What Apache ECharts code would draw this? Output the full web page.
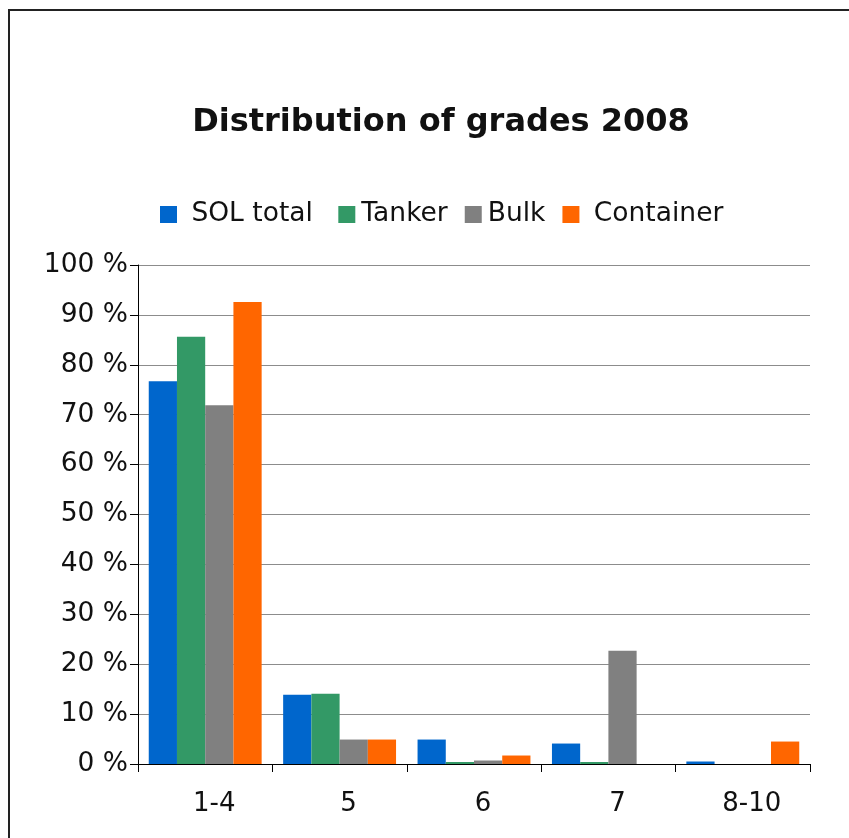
<!DOCTYPE html>
<html>
<head>
<meta charset="utf-8">
<script src="https://cdn.jsdelivr.net/npm/echarts@6/dist/echarts.min.js"></script>
<style>
  html, body { margin: 0; padding: 0; background: #fff; overflow: hidden; }
  #chart { width: 849px; height: 838px; }
</style>
</head>
<body>
<div id="chart"></div>
<script>
// grades on the x axis
const grades = ['1-4', '5', '6', '7', '8-10']
// share of ships per grade, in %
const solTotal = [76.7, 13.9, 4.9, 4.1, 0.5]
const tanker = [85.6, 14.1, 0.4, 0.4, 0]
const bulk = [71.9, 4.9, 0.7, 22.7, 0]
const container = [92.6, 4.9, 1.7, 0, 4.5]

const font = 'DejaVu Sans, Verdana, sans-serif'

const chart = echarts.init(document.getElementById('chart'))

const bar = (name, color, data) => ({
  name: name,
  type: 'bar',
  barGap: 0,
  barCategoryGap: '16%',
  itemStyle: { color: color },
  data: data
})

chart.setOption({
  animation: false,
  textStyle: { fontFamily: font },
  // outer frame
  graphic: [{
    type: 'rect',
    z: -10,
    shape: { x: 9, y: 10, width: 900, height: 900 },
    style: { fill: 'none', stroke: '#222', lineWidth: 2 }
  }],
  title: {
    text: 'Distribution of grades 2008',
    left: 436,
    top: 102,
    textAlign: 'center',
    textStyle: { fontFamily: font, fontSize: 32, fontWeight: 'bold', color: '#111' }
  },
  legend: {
    left: 155,
    top: 196,
    itemWidth: 17,
    itemHeight: 17,
    itemGap: 17,
    icon: 'rect',
    formatter: (name) => name === 'SOL total' ? ' SOL total ' : (name === 'Container' ? ' Container' : name),
    textStyle: { fontFamily: font, fontSize: 26.5, color: '#111', padding: [0, 0, 0, 1] }
  },
  grid: { left: 138, right: 39, top: 265, bottom: 74 },
  xAxis: {
    type: 'category',
    data: grades,
    axisLine: { lineStyle: { color: '#000', width: 1 } },
    axisTick: { show: true, length: 8, lineStyle: { color: '#000' } },
    axisLabel: { margin: 27, fontSize: 26, color: '#111', padding: [0, 0, 0, 18] }
  },
  yAxis: {
    type: 'value',
    min: 0,
    max: 100,
    interval: 10,
    axisLine: { show: true, lineStyle: { color: '#000', width: 1 } },
    axisTick: { show: true, length: 8, lineStyle: { color: '#000' } },
    axisLabel: { formatter: '{value} %', margin: 10, fontSize: 26.5, color: '#111' },
    splitLine: { lineStyle: { color: '#8c8c8c', width: 1 } }
  },
  series: [
    bar('SOL total', '#0066cc', solTotal),
    bar('Tanker', '#339966', tanker),
    bar('Bulk', '#808080', bulk),
    bar('Container', '#ff6600', container)
  ]
})
</script>
</body>
</html>
